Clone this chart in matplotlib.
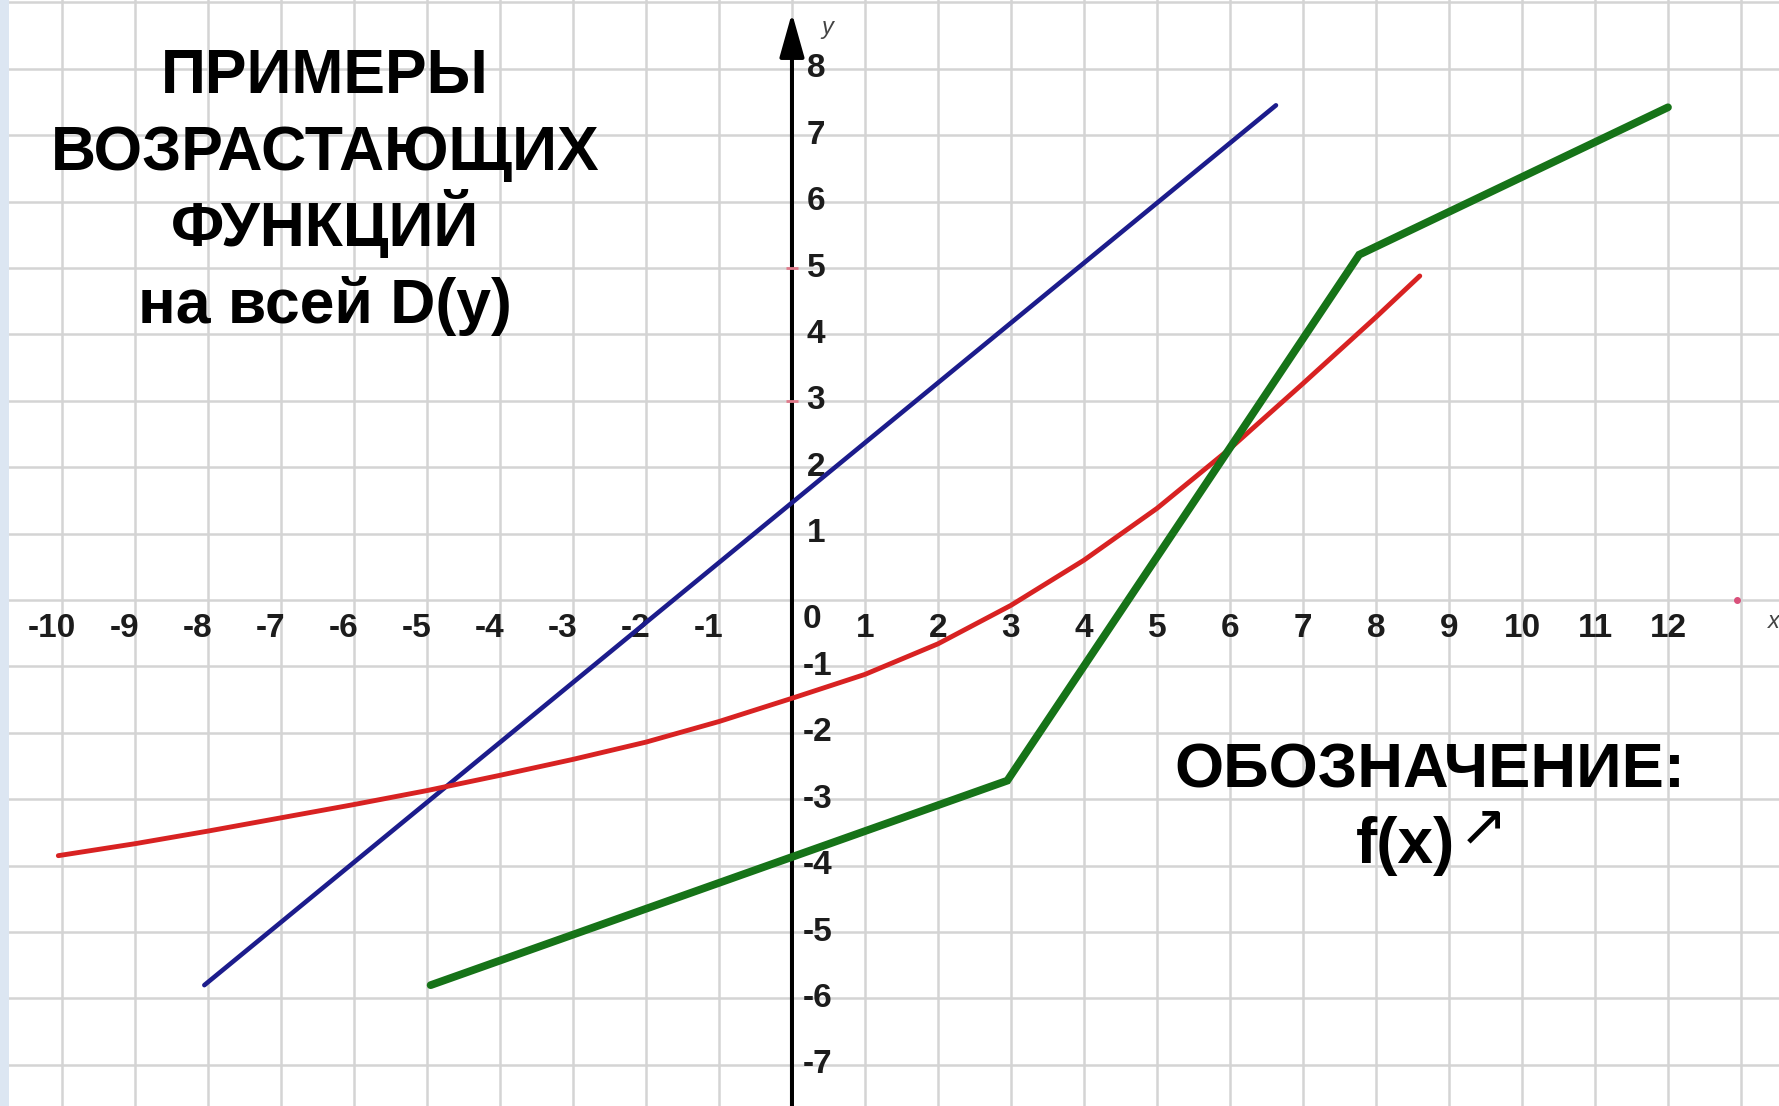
import matplotlib
matplotlib.use("Agg")
import matplotlib.pyplot as plt
from matplotlib.patches import Rectangle

# Three increasing functions, values read in graph units
blue_x = [-8.05, 6.63]
blue_y = [-5.80, 7.45]

red_x = [-10.05, -9, -8, -7, -6, -5, -4, -3, -2, -1, 0, 1, 2, 3, 4, 5, 6, 7, 8, 8.6]
red_y = [-3.85, -3.67, -3.48, -3.28, -3.08, -2.87, -2.64, -2.40, -2.14, -1.83,
         -1.48, -1.12, -0.66, -0.08, 0.60, 1.38, 2.28, 3.26, 4.26, 4.88]

green_x = [-4.95, 2.95, 7.77, 12.0]
green_y = [-5.80, -2.72, 5.20, 7.42]

x_ticks = [-10, -9, -8, -7, -6, -5, -4, -3, -2, -1, 1, 2, 3, 4, 5, 6, 7, 8, 9, 10, 11, 12]
y_ticks = [8, 7, 6, 5, 4, 3, 2, 1, -1, -2, -3, -4, -5, -6, -7]

title_lines = ["ПРИМЕРЫ", "ВОЗРАСТАЮЩИХ", "ФУНКЦИЙ", "на всей D(y)"]
note_title = "ОБОЗНАЧЕНИЕ:"
note_expr = "f(x)"
note_arrow = "↗"

W, H, DPI = 1779, 1106, 100
fig = plt.figure(figsize=(W / DPI, H / DPI), dpi=DPI)
fig.patch.set_facecolor("white")
ax = fig.add_axes([0, 0, 1, 1])
ax.set_xlim(-10.849, 13.521)
ax.set_ylim(-7.62, 9.036)
ax.axis("off")

# square grid
grid_kw = dict(color="#d4d4d4", lw=1.8, zorder=1)
for i in range(-11, 15):
    ax.axvline(i, **grid_kw)
for j in range(-8, 10):
    ax.axhline(j, **grid_kw)

# coordinate axes with arrow heads
arrow_kw = dict(arrowstyle="-|>,head_length=1.35,head_width=0.38", lw=2.9,
                color="black", shrinkA=0, shrinkB=0, mutation_scale=20)
ax.annotate("", xy=(13.68, 0), xytext=(-10.9, 0), arrowprops=arrow_kw, zorder=3)
ax.annotate("", xy=(0, 8.84), xytext=(0, -7.7), arrowprops=arrow_kw, zorder=3)

# small tick marks on the axes
ax.plot([12.95], [0], marker="o", ms=4, color="#d9507a", zorder=3.5)
for j in (3, 5):
    ax.plot([0], [j], marker="_", ms=8, mew=2, color="#e07a8a", zorder=3.5)

# tick labels
tick_font = dict(family=["Liberation Sans", "DejaVu Sans"], fontweight="bold",
                 fontsize=24, color="#1c1c1c", zorder=2)
for t in x_ticks:
    xpos = t - 0.14 if t < 0 else t
    ax.text(xpos, -0.43, str(t), ha="center", va="center", **tick_font)
ax.text(0.27, -0.30, "0", ha="center", va="center", **tick_font)
for t in y_ticks:
    xpos = 0.15 if t < 0 else 0.2
    ax.text(xpos, t, str(t), ha="left", va="center", **tick_font)
ax.text(0.48, 8.62, "y", ha="center", va="center", fontsize=17, style="italic",
        color="#444444", family="Liberation Sans", zorder=2)
ax.text(13.45, -0.33, "x", ha="center", va="center", fontsize=17, style="italic",
        color="#444444", family="Liberation Sans", zorder=2)

# function graphs
ax.plot(blue_x, blue_y, color="#1c1c8c", lw=3.3, solid_capstyle="round", zorder=4)
ax.plot(red_x, red_y, color="#d82222", lw=3.5, solid_capstyle="round",
        solid_joinstyle="round", zorder=4)
ax.plot(green_x, green_y, color="#167318", lw=5.6, solid_capstyle="round",
        solid_joinstyle="miter", zorder=4.5)

# headings
head_font = dict(family=["Liberation Sans", "DejaVu Sans"], fontweight="bold",
                 color="black", zorder=6)
for k, line in enumerate(title_lines):
    ax.text(-6.40, 7.63 - 1.153 * k, line, ha="center", va="baseline",
            fontsize=45, **head_font)

ax.text(8.74, -2.82, note_title, ha="center", va="baseline", fontsize=45.5, **head_font)
ax.text(8.40, -3.96, note_expr, ha="center", va="baseline", fontsize=46, **head_font)
ax.text(9.47, -3.43, note_arrow, ha="center", va="center", fontsize=42,
        family=["DejaVu Sans"], color="black", zorder=6)

# light frame strip on the left edge
fig.add_artist(Rectangle((0, 0), 9 / W, 1, transform=fig.transFigure,
                         facecolor="#dce6f2", edgecolor="none", zorder=10))

fig.savefig("out.png", dpi=DPI, facecolor="white")
